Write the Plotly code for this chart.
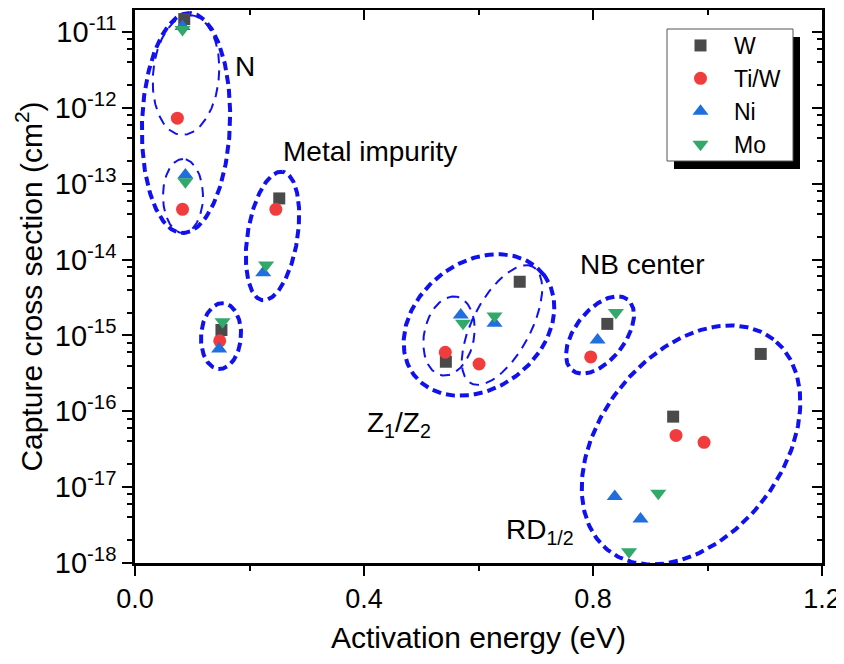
import numpy as np
import plotly.graph_objects as go

# ---------------- data ----------------
series_names = ["W", "Ti/W", "Ni", "Mo"]
W_E = [0.086, 0.252, 0.151, 0.672, 0.543, 0.825, 1.093, 0.940]
W_S = [1.48e-11, 6.4e-14, 1.18e-15, 5.1e-15, 4.5e-16, 1.42e-15, 5.7e-16, 8.5e-17]
TiW_E = [0.074, 0.083, 0.246, 0.148, 0.542, 0.601, 0.796, 0.945, 0.994]
TiW_S = [7.3e-13, 4.6e-14, 4.6e-14, 8.5e-16, 6.0e-16, 4.2e-16, 5.2e-16, 4.8e-17, 3.9e-17]
Ni_E = [0.083, 0.088, 0.224, 0.147, 0.569, 0.628, 0.808, 0.838, 0.883]
Ni_S = [1.18e-11, 1.30e-13, 6.7e-15, 6.6e-16, 1.86e-15, 1.45e-15, 8.7e-16, 7.5e-18, 3.8e-18]
Mo_E = [0.083, 0.088, 0.229, 0.153, 0.573, 0.628, 0.840, 0.914, 0.863]
Mo_S = [1.08e-11, 1.06e-13, 8.5e-15, 1.52e-15, 1.45e-15, 1.8e-15, 2.0e-15, 8.3e-18, 1.41e-18]

x_tickvals = [0.0, 0.4, 0.8, 1.2]
x_ticktext = ["0.0", "0.4", "0.8", "1.2"]
x_minor = [0.2, 0.6, 1.0]
y_exponents = [-11, -12, -13, -14, -15, -16, -17, -18]

# group labels (E, log10 sigma)
label_text = ["N", "Metal impurity", "NB center", "Z<sub>1</sub>/Z<sub>2</sub>", "RD<sub>1/2</sub>"]
label_E = [0.192, 0.4105, 0.887, 0.461, 0.7074]
label_logS = [-11.46, -12.58, -14.07, -16.18, -17.59]

# ellipses: center (E, log10 sigma), semi-axes in px, angle deg, thick?
ell_cE = [0.0891, 0.0891, 0.0838, 0.2402, 0.1502, 0.6009, 0.5485, 0.6410, 0.8122, 0.9712]
ell_cL = [-12.20, -11.567, -13.162, -13.689, -15.008, -14.863, -15.008, -14.863, -14.994, -16.444]
ell_a = [110, 60, 37, 65, 33, 82, 40, 66, 45, 134]
ell_b = [44, 33, 20, 25, 20, 63, 25, 29, 25, 91]
ell_ang = [88, 85, 90, 81, 86, 38, 79, 62, 52, 52]
ell_thick = [True, False, False, True, True, True, False, False, True, True]

# ---------------- layout geometry ----------------
# the page body adds an 8 px offset, so the figure is 8 px smaller
OFF = 8
W_FIG, H_FIG = 844 - OFF, 664 - OFF
ML, MR, MT, MB = 135 - OFF, 22, 10 - OFF, 101
XR = [0.0, 1.2]
YR = [-18.0, -10.71]
pw = W_FIG - ML - MR
ph = H_FIG - MT - MB
px_per_x = pw / (XR[1] - XR[0])
px_per_dec = ph / (YR[1] - YR[0])


def paper_x(sx):  # screen x -> paper fraction
    return (sx - OFF - ML) / pw


def paper_y(sy):  # screen y -> paper fraction
    return (H_FIG - MB - (sy - OFF)) / ph


FONT = "Liberation Sans, Arial, sans-serif"
BLUE = "#1111ee"

fig = go.Figure()

# ellipses
t = np.linspace(0, 2 * np.pi, 240)
for cE, cL, a, b, ang, thick in zip(ell_cE, ell_cL, ell_a, ell_b, ell_ang, ell_thick):
    th = np.deg2rad(ang)
    dx = a * np.cos(t) * np.cos(th) - b * np.sin(t) * np.sin(th)
    dy = a * np.cos(t) * np.sin(th) + b * np.sin(t) * np.cos(th)
    xs = cE + dx / px_per_x
    ys = 10 ** (cL + dy / px_per_dec)
    fig.add_trace(go.Scatter(
        x=xs, y=ys, mode="lines", showlegend=False, hoverinfo="skip",
        line=dict(color=BLUE, width=4 if thick else 2,
                  dash="9px,5px" if thick else "10px,7px"),
    ))

marker_styles = [
    dict(symbol="square", color="#4a4a4a", size=12),
    dict(symbol="circle", color="#f03c3c", size=13),
    dict(symbol="triangle-up", color="#1f6fe0", size=14),
    dict(symbol="triangle-down", color="#33a86b", size=14),
]
for name, xs, ys, ms in zip(series_names, [W_E, TiW_E, Ni_E, Mo_E],
                            [W_S, TiW_S, Ni_S, Mo_S], marker_styles):
    fig.add_trace(go.Scatter(x=xs, y=ys, mode="markers", name=name,
                             marker=dict(symbol=ms["symbol"], color=ms["color"],
                                         size=ms["size"], line=dict(width=0))))

# dummy traces to register mirror axes
fig.add_trace(go.Scatter(x=[0.5], y=[1e-15], xaxis="x2", yaxis="y", mode="markers",
                         opacity=0, showlegend=False, hoverinfo="skip"))
fig.add_trace(go.Scatter(x=[0.5], y=[1e-15], xaxis="x", yaxis="y2", mode="markers",
                         opacity=0, showlegend=False, hoverinfo="skip"))

# y tick values
y_tickvals = [10.0 ** e for e in y_exponents]
y_ticktext = ["10<sup>%d</sup>" % e for e in y_exponents]
y_minor = [m * 10.0 ** e for e in range(-18, -10) for m in (2, 4, 6, 8)]

axis_common = dict(showgrid=False, zeroline=False, linecolor="black", linewidth=2.5,
                   tickcolor="black", tickwidth=2, automargin=False)

fig.update_layout(
    width=W_FIG, height=H_FIG,
    margin=dict(l=ML, r=MR, t=MT, b=MB, autoexpand=False),
    paper_bgcolor="white", plot_bgcolor="white",
    font=dict(family=FONT, color="black", size=24),
    xaxis=dict(range=XR, tickmode="array", tickvals=x_tickvals, ticktext=x_ticktext,
               ticks="outside", ticklen=10, mirror=True, showline=True,
               tickfont=dict(size=27),
               minor=dict(tickvals=x_minor, ticks="outside", ticklen=5,
                          tickwidth=2, tickcolor="black"),
               title=dict(text="Activation energy (eV)", font=dict(size=30), standoff=14),
               **axis_common),
    yaxis=dict(type="log", range=YR, tickmode="array", tickvals=y_tickvals,
               ticktext=y_ticktext, ticks="outside", ticklen=10, mirror=True,
               showline=True, tickfont=dict(size=29),
               minor=dict(tickvals=y_minor, ticks="outside", ticklen=5,
                          tickwidth=2, tickcolor="black"),
               title=dict(text="Capture cross section (cm<sup>2</sup>)",
                          font=dict(size=30), standoff=4),
               **axis_common),
    xaxis2=dict(range=XR, overlaying="x", side="top", anchor="y", tickmode="array",
                tickvals=x_tickvals, ticks="inside", ticklen=10, showticklabels=False,
                showline=False, automargin=False,
                minor=dict(tickvals=x_minor, ticks="inside", ticklen=5,
                           tickwidth=2, tickcolor="black"),
                showgrid=False, zeroline=False, tickcolor="black", tickwidth=2),
    yaxis2=dict(type="log", range=YR, overlaying="y", side="right", anchor="x",
                tickmode="array", tickvals=y_tickvals, ticks="inside", ticklen=10,
                showticklabels=False, showline=False, automargin=False,
                minor=dict(tickvals=y_minor, ticks="inside", ticklen=5,
                           tickwidth=2, tickcolor="black"),
                showgrid=False, zeroline=False, tickcolor="black", tickwidth=2),
    legend=dict(x=paper_x(667), y=paper_y(24), xanchor="left", yanchor="top",
                bgcolor="rgba(0,0,0,0)", borderwidth=0,
                font=dict(size=23, family=FONT), itemwidth=57,
                tracegroupgap=0),
    showlegend=True,
)

# legend shadow and frame
fig.add_shape(type="rect", xref="paper", yref="paper",
              x0=paper_x(674), x1=paper_x(800), y0=paper_y(169), y1=paper_y(37),
              fillcolor="black", line=dict(width=0), layer="above")
fig.add_shape(type="rect", xref="paper", yref="paper",
              x0=paper_x(667), x1=paper_x(793), y0=paper_y(161), y1=paper_y(29),
              fillcolor="white", line=dict(width=1, color="#555555"), layer="above")

for txt, e, l in zip(label_text, label_E, label_logS):
    fig.add_annotation(x=e, y=l, xref="x", yref="y", text=txt, showarrow=False,
                       font=dict(size=28, family=FONT, color="black"))

fig.write_html("out.html")
